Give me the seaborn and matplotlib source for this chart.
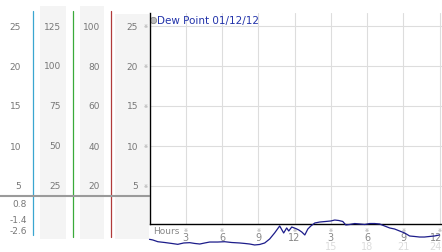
import numpy as np
import pandas as pd
import matplotlib
matplotlib.use("Agg")
import matplotlib.pyplot as plt
import seaborn as sns

# ---------------- data ----------------
hours = [0.0, 0.27, 0.69, 1.26, 1.84, 2.34, 2.83, 3.33, 3.74, 4.16, 4.57, 4.98,
         5.64, 6.22, 6.80, 7.46, 7.88, 8.29, 8.70, 9.11, 9.53, 9.94, 10.35, 10.77,
         11.10, 11.35, 11.52, 11.77, 12.10, 12.35, 12.60, 12.85, 13.10, 13.35,
         13.68, 14.09, 14.59, 15.0, 15.33, 15.66, 15.99, 16.24, 16.57, 16.98,
         17.39, 17.81, 18.22, 18.63, 19.04, 19.45, 19.87, 20.28, 20.69, 21.11,
         21.52, 21.93, 22.34, 22.75, 23.17, 23.58, 23.99]
dew_point = [-3.65, -3.73, -3.95, -4.05, -4.17, -4.28, -4.11, -4.07, -4.17, -4.24,
             -4.11, -3.99, -3.99, -3.95, -4.05, -4.11, -4.17, -4.24, -4.36, -4.30,
             -4.11, -3.61, -2.85, -1.97, -2.85, -2.22, -2.60, -2.10, -2.29, -2.47,
             -2.73, -3.10, -2.35, -1.97, -1.59, -1.47, -1.40, -1.34, -1.22, -1.28,
             -1.40, -1.84, -1.78, -1.66, -1.72, -1.78, -1.66, -1.66, -1.72, -1.97,
             -2.22, -2.35, -2.60, -2.85, -3.23, -3.29, -3.36, -3.36, -3.29, -3.23,
             -3.10]

scale_1 = [25, 20, 15, 10, 5]
scale_2 = [125, 100, 75, 50, 25]
scale_3 = [100, 80, 60, 40, 20]
scale_4 = [25, 20, 15, 10, 5]
dew_labels = ["0.8", "-1.4", "-2.6"]
dew_label_values = [0.8, -1.2, -2.6]
hour_ticks = [3, 6, 9, 12, 15, 18, 21, 24]
hour_labels_top = ["3", "6", "9", "12", "3", "6", "9", "12"]
hour_labels_bottom = ["", "", "", "", "15", "18", "21", "24"]
title = "Dew Point 01/12/12"

# ---------------- figure ----------------
sns.set_style("white")
plt.rcParams["font.family"] = ["DejaVu Sans"]
W, H = 442, 253
fig = plt.figure(figsize=(W / 100, H / 100), dpi=100)

def fx(px):
    return px / W

def fy(py):
    return 1 - py / H

TXT = "#777777"
FS = 6.5

# background (pixel) axes for decorations
bg = fig.add_axes([0, 0, 1, 1])
bg.set_xlim(0, W)
bg.set_ylim(H, 0)
bg.axis("off")
band_col = "#f4f4f4"
bg.fill_between([40, 66], 7, 240, color=band_col, lw=0)
bg.fill_between([80, 104], 7, 240, color=band_col, lw=0)
bg.fill_between([115, 149], 15, 240, color=band_col, lw=0)
bg.plot([33, 33], [12, 236], color="#3aa6d0", lw=0.9)
bg.plot([72.5, 72.5], [12, 238], color="#3aaa3a", lw=0.9)
bg.plot([111, 111], [12, 238], color="#b03a3a", lw=0.9)
bg.plot([0, 149], [197, 197], color="#9a9a9a", lw=1.5)

# main axes
top_px, bot_px, left_px = 14, 225, 149.5
main_rect = [fx(left_px), fy(bot_px), fx(W - left_px), (bot_px - top_px) / H]
ax = fig.add_axes(main_rect)
ax.patch.set_alpha(0)
ylo, yhi = 0.25, 26.625
ax.set_ylim(ylo, yhi)
XMAX = 24.2
ax.set_xlim(0, XMAX)
ax.set_yticks(scale_1)
ax.set_xticks(hour_ticks)
ax.grid(True, color="#dddddd", lw=0.8)
ax.tick_params(length=0, labelleft=False, labelbottom=False)
for s in ["top", "right"]:
    ax.spines[s].set_visible(False)
for s in ["left", "bottom"]:
    ax.spines[s].set_color("black")
    ax.spines[s].set_linewidth(1.0)

# left scale columns (share vertical extent with main axes)
col_specs = [(scale_1, 1, 0, 21), (scale_2, 5, 40, 61), (scale_3, 4, 80, 100),
             (scale_4, 1, 115, 138)]
for vals, factor, x0, xr in col_specs:
    cax = fig.add_axes([fx(x0), fy(bot_px), fx(xr - x0), (bot_px - top_px) / H])
    cax.set_ylim(ylo * factor, yhi * factor)
    cax.set_xlim(0, 1)
    cax.axis("off")
    for v in vals:
        cax.text(1, v, str(v), ha="right", va="center", fontsize=FS, color=TXT)
# small markers next to the last column
mk = fig.add_axes([fx(138), fy(bot_px), fx(11), (bot_px - top_px) / H])
mk.set_ylim(ylo, yhi)
mk.set_xlim(0, 1)
mk.axis("off")
for v in scale_4:
    mk.text(0.65, v, "\u203b", ha="center", va="center", fontsize=3.5, color="#999999")

# dew point axis
ax2 = ax.twinx()
ax2.set_ylim(-1.72, 24.85)
ax2.axis("off")
df = pd.DataFrame({"hour": hours, "dew": dew_point})
sns.lineplot(data=df, x="hour", y="dew", ax=ax2, color="#1c1c8a", lw=0.9,
             clip_on=False, legend=False)
ax2.set_xlim(0, XMAX)

# dew labels in left column
dax = fig.add_axes([0, fy(bot_px), fx(27), (bot_px - top_px) / H])
dax.set_ylim(-1.72, 24.85)
dax.set_xlim(0, 1)
dax.axis("off")
for lab, v in zip(dew_labels, dew_label_values):
    dax.text(1, v, lab, ha="right", va="center", fontsize=FS, color=TXT)

# hour labels
tr = ax.get_xaxis_transform()
for h, t1, t2 in zip(hour_ticks, hour_labels_top, hour_labels_bottom):
    ax.text(h, -6 / 211, "\u203b", ha="center", va="center", fontsize=3.5,
            color="#999999", transform=tr, clip_on=False)
    if h == hour_ticks[-1]:
        xpos, ha = XMAX, "right"
    else:
        xpos, ha = h, "center"
    ax.text(xpos, -13 / 211, t1, ha=ha, va="center", fontsize=FS + 0.5,
            color="#888888", transform=tr, clip_on=False)
    ax.text(xpos, -22 / 211, t2, ha=ha, va="center", fontsize=FS + 0.5,
            color="#dcdcdc", transform=tr, clip_on=False)
ax.text(0.3, -7 / 211, "Hours", ha="left", va="center", fontsize=FS,
        color="#888888", transform=tr, clip_on=False)

# title with marker
ax.plot([0.3], [25.7], marker="o", ms=4.5, mfc="#bbbbbb", mec="#888888",
        mew=0.6, clip_on=False)
ax.text(0.62, 25.7, title, ha="left", va="center", fontsize=7.5, color="#2233aa")

fig.savefig("out.png", dpi=100)
